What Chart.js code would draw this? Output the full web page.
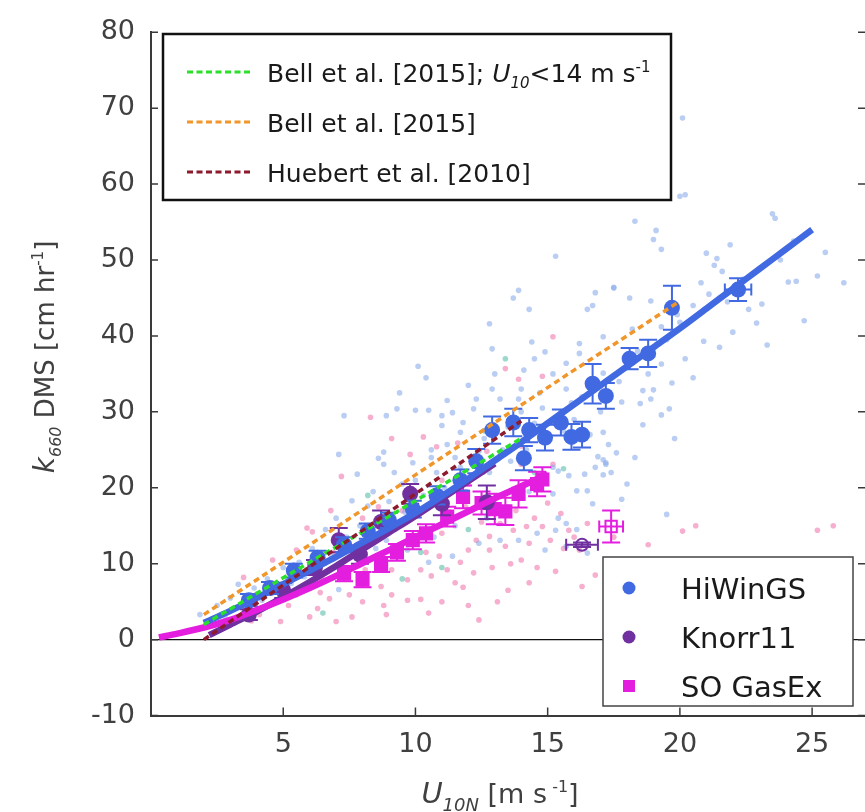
<!DOCTYPE html>
<html><head><meta charset="utf-8">
<script src="https://cdn.jsdelivr.net/npm/chart.js@4/dist/chart.umd.min.js"></script>
<style>
html,body{margin:0;padding:0;background:#fff;overflow:hidden;width:865px;height:812px;}
#wrap{position:relative;width:875px;height:812px;}
canvas{display:block;}
</style></head><body>
<div id="wrap"><canvas id="c" width="875" height="812"></canvas></div>
<script>
// ---------- axis ticks ----------
const xTickVals = [5, 10, 15, 20, 25];
const yTickVals = [-10, 0, 10, 20, 30, 40, 50, 60, 70, 80];

// ---------- legend labels ----------
const refLabels = ['Bell et al. [2015]; ', 'Bell et al. [2015]', 'Huebert et al. [2010]'];
const campaignLabels = ['HiWinGS', 'Knorr11', 'SO GasEx'];

// ---------- HiWinGS bin means ----------
const hiwU   = [3.7,4.5,5.4,6.3,7.3,8.2,9.0,9.9,10.8,11.7,12.3,12.9,13.7,14.1,14.3,14.9,15.5,15.9,16.3,16.7,17.2,18.1,18.8,19.7,22.2];
const hiwK   = [5.2,6.8,9.1,10.8,12.5,14.3,15.7,17.2,19.0,21.0,23.5,27.6,28.6,23.9,27.6,26.6,28.6,26.7,27.0,33.7,32.1,37.0,37.7,43.7,46.1];
const hiwErr = [0.8,0.8,0.9,0.9,1.0,1.0,1.0,1.1,1.2,1.4,1.6,1.8,1.8,1.6,1.6,1.7,1.7,1.7,1.7,2.6,1.7,1.4,1.8,2.9,1.5];
const hiwErrU= [0,0,0,0,0,0,0,0,0,0,0,0,0,0,0,0,0,0,0,0,0,0,0,0,0.5];

// ---------- Knorr11 bin means ----------
const knU   = [3.7,5.0,6.2,7.1,7.9,8.7,9.8,11.0,12.7];
const knK   = [3.3,6.5,9.5,13.1,11.2,15.5,19.2,17.9,18.1];
const knErr = [0.7,1.0,1.0,1.6,1.2,1.5,1.3,1.5,2.2];
const knOpenU = [16.3], knOpenK = [12.5], knOpenErr = [0.3], knOpenErrU = [0.6];

// ---------- SO GasEx bin means ----------
const soU   = [7.3,8.0,8.7,9.3,9.9,10.4,11.2,11.8,12.5,13.0,13.4,13.9,14.6,14.8];
const soK   = [8.7,7.9,9.9,11.5,13.1,14.0,16.2,18.8,18.0,17.2,16.9,19.2,20.5,21.1];
const soErr = [1.0,1.0,1.0,1.1,1.2,1.2,1.3,1.5,1.5,2.0,1.8,1.8,1.6,1.6];
const soOpenU = [17.4], soOpenK = [14.9], soOpenErr = [2.1], soOpenErrU = [0.45];

// ---------- fits ----------
const hiwFitU = [2,3,4,5,6,7,8,9,10,11,12,13,14,15,16,17,18,19,20,21,22,23,24,25];
const hiwFitK = [2.2,3.8,5.5,7.3,9.1,10.9,12.8,14.7,16.7,18.9,21.2,23.6,26.0,28.5,31.0,33.5,36.0,38.5,41.0,43.6,46.2,48.8,51.4,54.0];
const knFitU  = [2.2,3,4,5,6,7,8,9,10,11,12,13];
const knFitK  = [0.6,2.0,3.7,5.6,7.6,9.7,11.9,14.1,16.3,18.6,20.9,23.2];
const soFitU  = [0.3,1,2,3,4,5,6,7,8,9,10,11,12,13,14,15];
const soFitK  = [0.3,0.8,1.6,2.6,3.9,5.3,6.8,8.4,10.1,11.8,13.5,15.2,16.9,18.6,20.2,21.8];
const bellLowU = [2,4,6,8,10,12,14];
const bellLowK = [2.0,6.1,10.2,14.2,18.3,22.4,26.5];
const bellU = [2,4,6,8,10,12,14,16,18,20];
const bellK = [3.3,7.9,12.5,17.1,21.7,26.3,30.9,35.5,40.0,44.6];
const huebU = [2,4,6,8,10,12,14];
const huebK = [0.0,4.8,9.6,14.4,19.2,24.0,28.8];

// ---------- individual measurements [U, k] ----------
const hiwRaw = [
[20.1,68.7],[17.0,59.4],[20.0,58.4],[20.2,58.6],[18.3,55.1],[19.1,53.9],[19.0,52.7],[19.3,51.4],[23.5,56.1],[23.6,55.5],
[21.0,50.9],[21.4,50.2],[21.3,49.3],[21.6,48.5],[17.5,46.4],[18.9,44.6],[21.1,45.5],[24.1,47.1],[24.4,47.2],[25.2,47.9],
[23.1,44.2],[22.9,41.7],[24.7,42.0],[23.3,38.8],[20.9,39.3],[20.2,37.0],[20.0,41.8],[19.9,42.8],[19.3,41.2],[18.2,40.9],
[17.1,39.9],[17.1,35.1],[19.3,36.3],[19.7,33.8],[18.6,32.8],[19.0,32.9],[18.9,31.7],[19.6,30.4],[19.3,29.6],[18.5,31.1],
[17.8,31.3],[18.6,28.3],[17.1,27.3],[17.6,24.6],[17.1,23.7],[17.2,23.1],[17.1,21.7],[19.5,16.5],
[13.9,46.0],[13.7,45.0],[14.3,43.5],[12.8,41.6],[10.1,36.0],[10.4,34.5],[12.9,38.3],[14.4,39.2],[14.5,37.0],[16.2,39.0],
[16.2,37.7],[15.7,36.4],[16.8,45.7],[16.5,43.5],[16.7,44.0],[17.5,46.3],[15.2,35.0],[14.9,37.9],[15.3,50.5],
[9.4,32.5],[10.0,30.2],[10.5,30.2],[11.0,29.5],[11.0,28.2],[11.4,29.9],[11.8,28.6],[11.7,27.3],[12.2,30.4],[12.3,31.7],
[12.9,33.0],[13.2,31.7],[13.9,31.7],[14.0,33.0],[14.7,32.5],[15.7,33.0],[15.9,31.2],[8.9,29.5],[8.8,24.7],[8.8,23.1],
[9.2,22.0],[9.9,23.3],[10.6,25.0],[10.6,24.0],[11.2,25.7],[11.7,22.7],[12.4,24.8],[12.4,23.9],[15.2,22.7],[15.4,22.2],
[15.8,21.6],[16.1,19.6],[16.4,21.8],[16.8,22.7],[17.2,23.3],[17.3,25.7],[16.9,24.1],[17.4,22.0],[15.2,19.2],[15.4,16.0],
[15.3,14.4],[15.7,15.3],[16.5,19.6],[16.7,17.9],[8.9,13.1],[9.7,11.8],[10.5,10.2],[11.4,11.0],[12.4,12.7],[13.2,13.1],
[13.9,13.1],[14.6,14.0],[14.9,11.8],[15.7,12.3],[16.5,11.4],
[7.1,24.4],[7.8,21.8],[8.6,23.9],[3.3,7.3],[1.85,3.3],[7.1,6.6],[7.3,29.5],[9.3,30.4],[11.2,31.5],
[2.5,4.5],[2.8,3.0],[3.0,5.5],[3.6,4.0],[3.9,6.8],[4.2,5.2],[4.4,8.0],[4.8,6.5],[5.0,9.5],[5.3,7.4],
[5.6,10.2],[5.8,8.3],[6.1,12.0],[6.3,9.8],[6.6,14.5],[6.8,11.2],[7.0,16.0],[7.4,13.5],[7.6,18.3],[7.9,15.0],
[8.2,17.6],[8.4,19.5],[8.5,12.0],[9.0,18.2],[9.5,20.5],[9.6,16.8],[10.0,21.0],[10.3,19.0],[10.8,22.0],[11.1,20.0],
[11.5,24.0],[11.9,19.5],[12.1,21.5],[12.6,26.5],[12.8,22.0],[13.3,25.0],[13.5,28.0],[13.6,23.5],[14.0,30.0],[14.2,25.0],
[14.5,28.5],[14.8,30.5],[15.0,26.0],[15.5,30.0],[15.6,27.5],[16.0,29.0],[16.3,32.0],[16.6,27.0],[17.0,30.0],[17.7,34.0],
[18.0,36.5],[18.4,38.0],[18.8,35.0],[19.5,39.5],[20.5,44.0],[21.8,44.5],[22.4,47.5],[22.6,43.5],[23.8,50.0],[24.3,52.5],
[25.5,51.0],[26.2,47.0],[20.8,47.0],[21.9,52.0],[18.1,45.0],[14.1,35.5],[13.0,35.0],[12.0,33.5],[11.5,15.0],[10.7,13.5],
[13.5,17.5],[14.3,19.5],[12.7,16.0],[16.1,14.5],[17.8,18.5],[18.3,24.0],[19.8,26.5],[18.0,20.5],[20.5,34.5],[21.5,38.5],[22.0,40.5]
];
const soRaw = [
[9.1,26.5],[10.3,26.7],[9.8,24.4],[10.8,25.4],[11.6,25.9],[12.2,24.1],[12.7,24.8],[15.2,23.1],[14.2,14.9],[13.7,14.4],
[13.2,15.3],[12.8,13.6],[12.3,13.1],[12.0,11.8],[11.7,10.2],[11.2,9.2],[10.6,8.4],[10.2,9.2],[9.7,7.9],[9.1,9.2],
[10.9,11.0],[12.8,11.8],[13.4,12.3],[14.3,12.7],[15.1,13.1],[14.8,14.9],[16.2,11.8],[16.5,15.3],[14.0,23.1],[15.8,14.4],
[15.5,16.6],[7.2,21.5],[5.9,14.7],[6.1,14.2],[5.5,11.8],[4.6,10.5],[3.5,8.2],[4.1,3.3],[4.2,4.1],[4.9,2.4],
[5.5,5.9],[6.3,4.1],[7.0,2.4],[7.6,3.0],[8.0,5.0],[7.5,5.9],[6.75,5.4],[8.8,4.5],[8.9,3.3],[7.0,8.4],
[6.5,7.9],[8.1,9.2],[8.3,29.3],[12.4,2.6],[13.1,5.0],[14.3,7.5],[11.8,6.9],[12.2,8.8],[10.2,5.3],[9.7,5.2],
[9.1,5.9],[13.4,35.7],[15.2,39.9],[13.9,34.3],[14.8,34.7],[14.0,25.5],[20.1,14.3],[20.6,15.0],[25.2,14.4],[25.8,15.0],
[5.0,6.8],[5.7,8.6],[6.0,10.0],[6.4,6.2],[6.9,11.5],[7.3,10.3],[7.7,12.0],[7.9,7.5],[8.3,13.0],[8.5,10.8],
[8.7,7.0],[9.0,15.5],[9.3,11.0],[9.5,17.0],[9.9,13.0],[10.1,16.5],[10.4,11.5],[10.7,18.5],[11.0,14.0],[11.3,16.8],
[11.5,7.5],[11.9,17.5],[12.5,15.5],[12.9,9.5],[13.0,18.5],[13.6,10.0],[13.8,17.0],[14.5,16.0],[14.6,9.5],[15.0,18.0],
[15.6,12.0],[16.0,13.5],[16.8,8.5],[12.0,20.5],[11.0,21.0],[10.0,19.5],[8.6,17.5],[8.0,16.0],[6.8,17.0],[4.0,6.0],
[3.8,2.5],[5.2,4.5],[6.0,3.0],[10.5,3.5],[11.0,5.0],[12.0,4.5],[13.5,6.5],[14.0,10.5],[15.3,9.0],[16.3,7.0],
[17.5,13.5],[18.4,10.5],[18.8,12.5]
];
const knRaw = [
[13.4,37.0],[11.0,9.5],[12.0,14.5],[9.5,8.0],[14.5,22.0],[10.2,11.5],[8.2,19.0],[12.6,27.5],[15.6,22.5],[6.5,3.5]
];

// ---------- colours ----------
const cBlue = '#4169E1', cPurple = '#7030A0', cMag = '#E41EDF';
const cGreen = '#2BE02B', cOrange = '#F0962A', cRed = '#8E1A2E';

const xy = (u, k) => u.map((v, i) => ({x: v, y: k[i]}));
const pairs = (a) => a.map(p => ({x: p[0], y: p[1]}));

const rawStyle = (col) => ({pointRadius: 2.8, pointBorderWidth: 0, backgroundColor: col, borderColor: col, showLine: false});
const fitStyle = (col) => ({showLine: true, borderColor: col, borderWidth: 6.5, pointRadius: 0, fill: false, tension: 0.3, borderCapStyle: 'butt'});
const dashStyle = (col) => ({showLine: true, borderColor: col, borderWidth: 3.5, borderDash: [6, 4], pointRadius: 0, fill: false});

const datasets = [
  Object.assign({label: 'HiWinGS raw', data: pairs(hiwRaw), order: 10}, rawStyle('rgba(140,172,235,0.6)')),
  Object.assign({label: 'SO GasEx raw', data: pairs(soRaw), order: 10}, rawStyle('rgba(238,110,165,0.55)')),
  Object.assign({label: 'Knorr11 raw', data: pairs(knRaw), order: 10}, rawStyle('rgba(90,190,170,0.6)')),
  Object.assign({label: 'HiWinGS fit', data: xy(hiwFitU, hiwFitK), order: 2}, fitStyle(cBlue)),
  Object.assign({label: 'SO GasEx fit', data: xy(soFitU, soFitK), order: 2}, fitStyle(cMag)),
  Object.assign({label: 'Knorr11 fit', data: xy(knFitU, knFitK), order: 2}, fitStyle(cPurple)),
  {label: campaignLabels[0], data: xy(hiwU, hiwK), errY: hiwErr, errX: hiwErrU, order: 3,
   pointRadius: 8, pointStyle: 'circle', backgroundColor: cBlue, borderColor: cBlue, pointBorderWidth: 0, showLine: false},
  {label: campaignLabels[1], data: xy(knU, knK), errY: knErr, order: 3,
   pointRadius: 8, pointStyle: 'circle', backgroundColor: cPurple, borderColor: cPurple, pointBorderWidth: 0, showLine: false},
  {label: campaignLabels[2], data: xy(soU, soK), errY: soErr, order: 3,
   pointRadius: 10, pointStyle: 'rect', backgroundColor: cMag, borderColor: cMag, pointBorderWidth: 0, showLine: false},
  {label: 'Knorr11 excluded', data: xy(knOpenU, knOpenK), errY: knOpenErr, errX: knOpenErrU, order: 3,
   pointRadius: 6, pointStyle: 'circle', backgroundColor: 'rgba(255,255,255,0)', borderColor: cPurple, pointBorderWidth: 2, showLine: false},
  {label: 'SO GasEx excluded', data: xy(soOpenU, soOpenK), errY: soOpenErr, errX: soOpenErrU, order: 3,
   pointRadius: 8, pointStyle: 'rect', backgroundColor: 'rgba(255,255,255,0)', borderColor: cMag, pointBorderWidth: 2, showLine: false},
  Object.assign({label: refLabels[1], data: xy(bellU, bellK), order: 1}, dashStyle(cOrange)),
  Object.assign({label: refLabels[2], data: xy(huebU, huebK), order: 1}, dashStyle(cRed)),
  Object.assign({label: refLabels[0], data: xy(bellLowU, bellLowK), order: 1}, dashStyle(cGreen))
];

const FONT = '"DejaVu Sans", "Liberation Sans", Arial, sans-serif';

// error bars drawn under each bin marker
const errPlugin = {
  id: 'errbars',
  beforeDatasetDraw(chart, args) {
    const ds = chart.data.datasets[args.index];
    if (!ds.errY && !ds.errX) return;
    const xs = chart.scales.x, ys = chart.scales.y, ctx = chart.ctx;
    ctx.save();
    ctx.strokeStyle = ds.borderColor; ctx.lineWidth = 2;
    const cap = 9, capx = 6;
    ds.data.forEach((p, i) => {
      const px = xs.getPixelForValue(p.x), py = ys.getPixelForValue(p.y);
      const ey = ds.errY ? ds.errY[i] : 0, ex = ds.errX ? ds.errX[i] : 0;
      ctx.beginPath();
      if (ey) {
        const t = ys.getPixelForValue(p.y + ey), b = ys.getPixelForValue(p.y - ey);
        ctx.moveTo(px, t); ctx.lineTo(px, b);
        ctx.moveTo(px - cap, t); ctx.lineTo(px + cap, t);
        ctx.moveTo(px - cap, b); ctx.lineTo(px + cap, b);
      }
      if (ex) {
        const l = xs.getPixelForValue(p.x - ex), r = xs.getPixelForValue(p.x + ex);
        ctx.moveTo(l, py); ctx.lineTo(r, py);
        ctx.moveTo(l, py - capx); ctx.lineTo(l, py + capx);
        ctx.moveTo(r, py - capx); ctx.lineTo(r, py + capx);
      }
      ctx.stroke();
    });
    ctx.restore();
  }
};

function runsWidth(ctx, runs) {
  let w = 0;
  runs.forEach(r => { ctx.font = (r[2] ? 'italic ' : '') + r[1] + 'px ' + FONT; w += ctx.measureText(r[0]).width; });
  return w;
}
function drawRuns(ctx, runs, x, y) {
  runs.forEach(r => {
    ctx.font = (r[2] ? 'italic ' : '') + r[1] + 'px ' + FONT;
    ctx.fillText(r[0], x, y + (r[3] || 0));
    x += ctx.measureText(r[0]).width;
  });
  return x;
}

const decoPlugin = {
  id: 'deco',
  afterDraw(chart) {
    const ctx = chart.ctx, xs = chart.scales.x, ys = chart.scales.y, a = chart.chartArea;
    ctx.save();
    // inward ticks (left, right, bottom)
    ctx.strokeStyle = '#3a3a3a'; ctx.lineWidth = 1.5;
    ctx.beginPath();
    yTickVals.forEach(v => {
      const py = ys.getPixelForValue(v);
      ctx.moveTo(a.left, py); ctx.lineTo(a.left + 7, py);
      ctx.moveTo(a.right, py); ctx.lineTo(a.right - 7, py);
    });
    xTickVals.forEach(v => {
      const px = xs.getPixelForValue(v);
      ctx.moveTo(px, a.bottom); ctx.lineTo(px, a.bottom - 8);
    });
    ctx.stroke();

    // axis titles
    ctx.fillStyle = '#404040';
    ctx.textBaseline = 'alphabetic';
    const xr = [['U', 29, true, 0], ['10N', 18, true, 8], [' [m s', 27, false, 0], [' -1', 16, false, -11], [']', 27, false, 0]];
    const xw = runsWidth(ctx, xr);
    drawRuns(ctx, xr, 500 - xw / 2, 803);
    ctx.save();
    ctx.translate(54, 357); ctx.rotate(-Math.PI / 2);
    const yr = [['k', 28, true, 0], ['660', 16, true, 7], [' DMS [cm hr', 26, false, 0], ['-1', 15, false, -11], [']', 26, false, 0]];
    const yw = runsWidth(ctx, yr);
    drawRuns(ctx, yr, -yw / 2, 0);
    ctx.restore();

    // legend 1: reference parameterisations
    ctx.fillStyle = '#fff'; ctx.strokeStyle = '#111'; ctx.lineWidth = 2.5;
    ctx.fillRect(163, 34, 508, 166); ctx.strokeRect(163, 34, 508, 166);
    const refSets = [chart.data.datasets[13], chart.data.datasets[11], chart.data.datasets[12]];
    const rowsY = [72, 122, 172];
    refSets.forEach((ds, i) => {
      ctx.strokeStyle = ds.borderColor; ctx.lineWidth = 3; ctx.setLineDash([6, 3.5]);
      ctx.beginPath(); ctx.moveTo(187, rowsY[i]); ctx.lineTo(253, rowsY[i]); ctx.stroke();
      ctx.setLineDash([]);
      ctx.fillStyle = '#1a1a1a'; ctx.textBaseline = 'alphabetic';
      const base = rowsY[i] + 10;
      if (i === 0) {
        drawRuns(ctx, [[refLabels[0], 25, false, 0], ['U', 25, true, 0], ['10', 15, true, 6], ['<14 m s', 25, false, 0], ['-1', 15, false, -10]], 267, base);
      } else {
        drawRuns(ctx, [[ds.label, 25, false, 0]], 267, base);
      }
    });

    // legend 2: campaigns
    ctx.fillStyle = '#fff'; ctx.strokeStyle = '#444'; ctx.lineWidth = 1.5;
    ctx.fillRect(603, 557, 250, 149); ctx.strokeRect(603, 557, 250, 149);
    const camp = [chart.data.datasets[6], chart.data.datasets[7], chart.data.datasets[8]];
    const r2 = [588, 637, 686];
    camp.forEach((ds, i) => {
      ctx.fillStyle = ds.backgroundColor;
      if (ds.pointStyle === 'rect') { ctx.fillRect(623, r2[i] - 6, 12, 12); }
      else { ctx.beginPath(); ctx.arc(629, r2[i], 6.5, 0, Math.PI * 2); ctx.fill(); }
      ctx.fillStyle = '#1a1a1a'; ctx.textBaseline = 'alphabetic';
      drawRuns(ctx, [[ds.label, 29, false, 0]], 681, r2[i] + 11);
    });
    ctx.restore();
  }
};

new Chart(document.getElementById('c'), {
  type: 'scatter',
  data: {datasets},
  options: {
    responsive: false, animation: false, devicePixelRatio: 1,
    layout: {padding: {left: 0, top: 20, right: 8.5, bottom: 0}},
    plugins: {legend: {display: false}, tooltip: {enabled: false}},
    scales: {
      x: {
        type: 'linear', min: 0, max: 27,
        afterBuildTicks: s => { s.ticks = xTickVals.map(v => ({value: v})); },
        afterFit: s => { s.height = 96.4; },
        grid: {display: false, drawTicks: false},
        border: {display: true, color: '#3a3a3a', width: 2},
        ticks: {font: {family: FONT, size: 27}, color: '#404040', padding: 13, maxRotation: 0}
      },
      y: {
        type: 'linear', min: -10, max: 80,
        afterBuildTicks: s => { s.ticks = yTickVals.map(v => ({value: v})); },
        afterFit: s => { s.width = 151; },
        grid: {drawTicks: false, color: c => (c.tick && c.tick.value === 0) ? '#111' : 'rgba(0,0,0,0)', lineWidth: 1.2},
        border: {display: true, color: '#3a3a3a', width: 2},
        ticks: {font: {family: FONT, size: 27}, color: '#404040', padding: 16}
      }
    }
  },
  plugins: [errPlugin, decoPlugin]
});
</script>
</body></html>
